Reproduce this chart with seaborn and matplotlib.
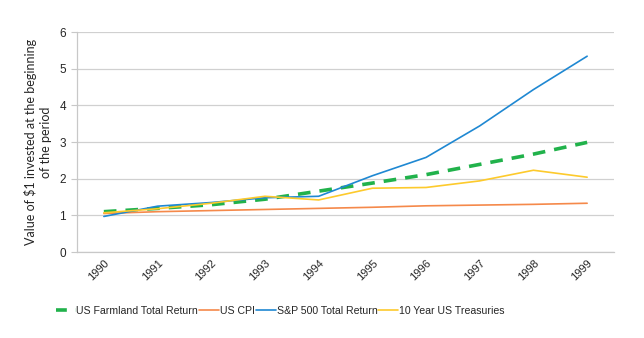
import matplotlib
matplotlib.use("Agg")
import matplotlib.pyplot as plt
import seaborn as sns
import pandas as pd
from matplotlib.lines import Line2D
from matplotlib import font_manager

years = ["1990", "1991", "1992", "1993", "1994", "1995", "1996", "1997", "1998", "1999"]
farmland = [1.10, 1.19, 1.29, 1.44, 1.66, 1.88, 2.11, 2.39, 2.67, 2.99]
cpi = [1.05, 1.10, 1.13, 1.16, 1.19, 1.22, 1.26, 1.28, 1.30, 1.33]
sp500 = [0.97, 1.25, 1.35, 1.48, 1.52, 2.08, 2.58, 3.44, 4.43, 5.34]
treasuries = [1.07, 1.18, 1.33, 1.52, 1.42, 1.74, 1.76, 1.94, 2.23, 2.04]

series_names = ["US Farmland Total Return", "US CPI", "S&P 500 Total Return", "10 Year US Treasuries"]
series_values = [farmland, cpi, sp500, treasuries]
colors = ["#21b24b", "#f5894a", "#1f88d2", "#fdca2c"]

rows = []
for name, vals in zip(series_names, series_values):
    for i, (yr, v) in enumerate(zip(years, vals)):
        rows.append({"pos": i, "year": yr, "value": v, "series": name})
df = pd.DataFrame(rows)

sns.set_theme(style="white")
plt.rcParams["font.family"] = ["Liberation Sans", "DejaVu Sans"]

installed = {f.name for f in font_manager.fontManager.ttflist}
legend_family = "Liberation Sans Narrow" if "Liberation Sans Narrow" in installed else "Liberation Sans"
legend_size = 9.0 if legend_family == "Liberation Sans Narrow" else 7.6

fig = plt.figure(figsize=(6.44, 3.38), dpi=100)
ax = fig.add_axes([0.1196, 0.2544, 0.8338, 0.6509])

sns.lineplot(
    data=df, x="pos", y="value", hue="series", style="series",
    hue_order=series_names, style_order=series_names,
    palette=dict(zip(series_names, colors)),
    dashes={series_names[0]: (3.5, 2.5), series_names[1]: "", series_names[2]: "", series_names[3]: ""},
    ax=ax, legend=False,
)
for line, name in zip(ax.get_lines(), series_names):
    line.set_linewidth(2.6 if name == series_names[0] else 1.2)

ax.set_xlim(-0.5, len(years) - 0.5)
ax.set_ylim(0, 6)
ax.set_yticks(range(0, 7))
ax.set_xticks([i for i in range(len(years))])
ax.set_xticklabels(years, rotation=45, ha="right", rotation_mode="anchor", fontsize=8)
ax.set_xticks([i - 0.5 for i in range(len(years) + 1)], minor=True)
ax.tick_params(axis="x", which="major", length=0, pad=4)
ax.tick_params(axis="x", which="minor", length=4, color="#c8c8c8", width=0.8, direction="out")
ax.tick_params(axis="y", length=4, color="#c8c8c8", width=0.8, labelsize=8.5, pad=4, left=True)
ax.set_xlabel("")
ax.set_ylabel("Value of $1 invested at the beginning\nof the period", fontsize=9,
              family=["Lato", "DejaVu Sans"], labelpad=5, linespacing=1.35)

ax.yaxis.grid(True, color="#d0d0d0", linewidth=0.9)
ax.set_axisbelow(True)
for s in ["top", "right"]:
    ax.spines[s].set_visible(False)
for s in ["left", "bottom"]:
    ax.spines[s].set_color("#c8c8c8")
    ax.spines[s].set_linewidth(0.9)

handles = [
    Line2D([], [], color=colors[0], lw=2.6, ls=(0, (3.0, 2.5))),
    Line2D([], [], color=colors[1], lw=1.2),
    Line2D([], [], color=colors[2], lw=1.2),
    Line2D([], [], color=colors[3], lw=1.2),
]
fig.legend(handles, series_names, loc="center", bbox_to_anchor=(0.435, 0.081), ncol=4,
           frameon=False, prop={"family": legend_family, "size": legend_size},
           handlelength=1.9, handletextpad=0.05, columnspacing=0.1)

fig.savefig("out.png", dpi=100)
